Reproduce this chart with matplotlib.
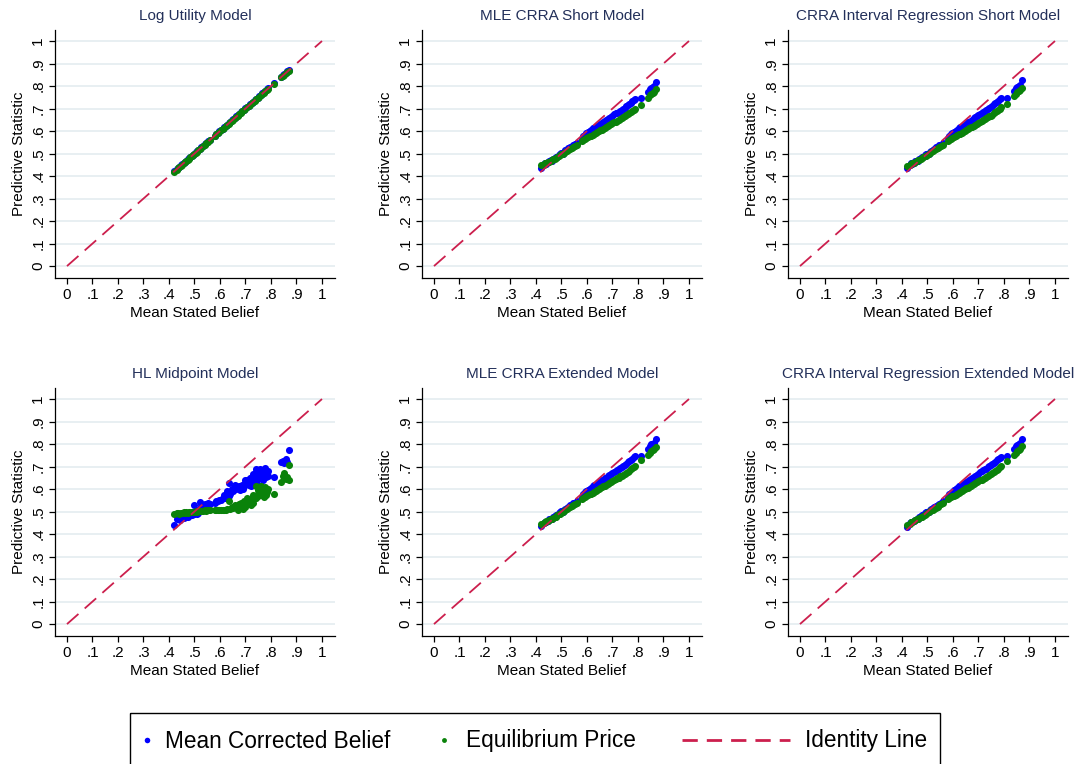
import matplotlib
matplotlib.use("Agg")
import matplotlib.pyplot as plt
from matplotlib.patches import Rectangle

plt.rcParams['font.family'] = ['Liberation Sans', 'DejaVu Sans']
plt.rcParams['lines.scale_dashes'] = False

# mean stated belief per market (shared by the smooth panels)
belief = [0.420, 0.430, 0.436, 0.441, 0.447, 0.452, 0.458, 0.463, 0.468, 0.473, 0.478, 0.484, 0.489,
          0.494, 0.499, 0.504, 0.510, 0.515, 0.521, 0.527, 0.533, 0.540, 0.547, 0.553, 0.560,
          0.580, 0.586, 0.592, 0.598, 0.604, 0.610, 0.616, 0.622, 0.628, 0.634, 0.640, 0.646,
          0.652, 0.658, 0.664, 0.670, 0.676, 0.682, 0.688, 0.694, 0.700, 0.706, 0.712, 0.718,
          0.724, 0.730, 0.736, 0.742, 0.748, 0.754, 0.760, 0.766, 0.772, 0.778, 0.784, 0.790,
          0.810, 0.840, 0.846, 0.852, 0.858, 0.864, 0.870]

# Log utility model
log_corrected = [0.421, 0.431, 0.437, 0.442, 0.448, 0.453, 0.459, 0.464, 0.469, 0.474, 0.479, 0.485, 0.490,
                 0.495, 0.500, 0.505, 0.511, 0.516, 0.522, 0.528, 0.534, 0.541, 0.548, 0.554, 0.562,
                 0.579, 0.587, 0.593, 0.599, 0.605, 0.611, 0.617, 0.623, 0.629, 0.635, 0.641, 0.647,
                 0.653, 0.659, 0.665, 0.671, 0.677, 0.683, 0.689, 0.695, 0.701, 0.707, 0.713, 0.719,
                 0.725, 0.731, 0.737, 0.743, 0.749, 0.755, 0.761, 0.767, 0.773, 0.779, 0.785, 0.791,
                 0.812, 0.842, 0.848, 0.854, 0.860, 0.866, 0.872]
log_price = [0.418, 0.429, 0.435, 0.440, 0.446, 0.451, 0.457, 0.462, 0.467, 0.472, 0.477, 0.483, 0.488,
             0.493, 0.498, 0.503, 0.509, 0.514, 0.520, 0.526, 0.532, 0.539, 0.546, 0.552, 0.558,
             0.579, 0.585, 0.591, 0.597, 0.603, 0.609, 0.615, 0.621, 0.627, 0.633, 0.639, 0.645,
             0.651, 0.657, 0.663, 0.669, 0.675, 0.681, 0.687, 0.693, 0.699, 0.705, 0.711, 0.717,
             0.723, 0.729, 0.735, 0.741, 0.747, 0.753, 0.759, 0.765, 0.771, 0.777, 0.783, 0.789,
             0.808, 0.838, 0.844, 0.850, 0.856, 0.862, 0.869]

# MLE CRRA short model
mle_short_corrected = [0.438, 0.452, 0.458, 0.455, 0.462, 0.466, 0.470, 0.468, 0.476, 0.481, 0.486, 0.485, 0.494,
                       0.497, 0.502, 0.500, 0.508, 0.514, 0.516, 0.523, 0.528, 0.531, 0.537, 0.541, 0.548,
                       0.566, 0.578, 0.584, 0.590, 0.594, 0.600, 0.604, 0.612, 0.615, 0.618, 0.622, 0.628,
                       0.631, 0.636, 0.640, 0.645, 0.648, 0.654, 0.659, 0.663, 0.668, 0.674, 0.678, 0.682,
                       0.685, 0.690, 0.695, 0.700, 0.704, 0.710, 0.716, 0.720, 0.726, 0.732, 0.738, 0.742,
                       0.745, 0.772, 0.785, 0.790, 0.795, 0.800, 0.818]
mle_short_price = [0.447, 0.450, 0.456, 0.458, 0.461, 0.464, 0.468, 0.471, 0.474, 0.478, 0.480, 0.485, 0.489,
                   0.492, 0.496, 0.499, 0.504, 0.508, 0.512, 0.516, 0.520, 0.525, 0.531, 0.535, 0.540,
                   0.555, 0.560, 0.565, 0.568, 0.572, 0.576, 0.580, 0.584, 0.587, 0.592, 0.595, 0.600,
                   0.603, 0.606, 0.611, 0.614, 0.618, 0.622, 0.626, 0.630, 0.634, 0.638, 0.641, 0.646,
                   0.650, 0.654, 0.658, 0.662, 0.666, 0.670, 0.675, 0.680, 0.684, 0.690, 0.694, 0.700,
                   0.716, 0.748, 0.758, 0.765, 0.770, 0.775, 0.786]

# CRRA interval regression short model
int_short_corrected = [0.436, 0.450, 0.456, 0.454, 0.460, 0.465, 0.469, 0.467, 0.475, 0.480, 0.484, 0.484, 0.492,
                       0.496, 0.500, 0.499, 0.507, 0.512, 0.515, 0.522, 0.527, 0.530, 0.536, 0.540, 0.547,
                       0.567, 0.579, 0.585, 0.591, 0.596, 0.601, 0.606, 0.613, 0.617, 0.620, 0.624, 0.629,
                       0.633, 0.638, 0.642, 0.646, 0.650, 0.656, 0.661, 0.665, 0.670, 0.676, 0.680, 0.684,
                       0.688, 0.692, 0.697, 0.702, 0.707, 0.712, 0.718, 0.723, 0.729, 0.735, 0.741, 0.746,
                       0.748, 0.778, 0.792, 0.797, 0.801, 0.806, 0.825]
int_short_price = [0.444, 0.448, 0.454, 0.457, 0.460, 0.463, 0.467, 0.470, 0.473, 0.477, 0.479, 0.484, 0.488,
                   0.491, 0.495, 0.498, 0.503, 0.507, 0.511, 0.515, 0.519, 0.524, 0.530, 0.534, 0.539,
                   0.556, 0.561, 0.566, 0.569, 0.573, 0.577, 0.581, 0.585, 0.589, 0.593, 0.597, 0.602,
                   0.605, 0.608, 0.613, 0.616, 0.620, 0.624, 0.628, 0.632, 0.636, 0.640, 0.644, 0.648,
                   0.652, 0.657, 0.661, 0.665, 0.669, 0.673, 0.678, 0.683, 0.688, 0.693, 0.698, 0.705,
                   0.722, 0.755, 0.765, 0.772, 0.778, 0.782, 0.792]

# MLE CRRA extended model
mle_ext_corrected = [0.434, 0.449, 0.455, 0.453, 0.460, 0.465, 0.469, 0.466, 0.475, 0.480, 0.485, 0.484, 0.493,
                     0.497, 0.501, 0.500, 0.508, 0.513, 0.516, 0.522, 0.527, 0.531, 0.536, 0.540, 0.547,
                     0.566, 0.578, 0.585, 0.590, 0.595, 0.601, 0.606, 0.613, 0.616, 0.620, 0.624, 0.630,
                     0.633, 0.638, 0.642, 0.647, 0.650, 0.656, 0.661, 0.665, 0.670, 0.676, 0.680, 0.684,
                     0.688, 0.692, 0.697, 0.702, 0.707, 0.712, 0.718, 0.723, 0.729, 0.735, 0.741, 0.745,
                     0.747, 0.778, 0.792, 0.798, 0.801, 0.806, 0.822]
mle_ext_price = [0.443, 0.447, 0.453, 0.456, 0.459, 0.462, 0.466, 0.469, 0.472, 0.476, 0.478, 0.483, 0.487,
                 0.490, 0.494, 0.497, 0.502, 0.506, 0.510, 0.514, 0.518, 0.523, 0.529, 0.533, 0.538,
                 0.555, 0.560, 0.565, 0.568, 0.572, 0.576, 0.580, 0.584, 0.588, 0.592, 0.596, 0.601,
                 0.604, 0.607, 0.612, 0.615, 0.619, 0.623, 0.627, 0.631, 0.635, 0.639, 0.643, 0.647,
                 0.651, 0.656, 0.660, 0.664, 0.668, 0.672, 0.677, 0.682, 0.687, 0.692, 0.697, 0.704,
                 0.728, 0.750, 0.762, 0.768, 0.774, 0.779, 0.788]

# CRRA interval regression extended model
int_ext_corrected = [0.433, 0.448, 0.454, 0.452, 0.459, 0.464, 0.468, 0.466, 0.474, 0.479, 0.484, 0.483, 0.492,
                     0.496, 0.500, 0.499, 0.507, 0.512, 0.515, 0.521, 0.526, 0.530, 0.535, 0.539, 0.546,
                     0.565, 0.577, 0.584, 0.589, 0.594, 0.600, 0.605, 0.612, 0.615, 0.619, 0.623, 0.629,
                     0.632, 0.637, 0.641, 0.646, 0.649, 0.655, 0.660, 0.664, 0.669, 0.675, 0.679, 0.683,
                     0.687, 0.691, 0.696, 0.701, 0.706, 0.711, 0.717, 0.722, 0.728, 0.734, 0.740, 0.744,
                     0.746, 0.776, 0.790, 0.796, 0.800, 0.805, 0.823]
int_ext_price = [0.441, 0.446, 0.452, 0.455, 0.458, 0.461, 0.465, 0.468, 0.471, 0.475, 0.477, 0.482, 0.486,
                 0.489, 0.493, 0.496, 0.501, 0.505, 0.509, 0.513, 0.517, 0.522, 0.528, 0.532, 0.537,
                 0.554, 0.559, 0.564, 0.567, 0.571, 0.575, 0.579, 0.583, 0.587, 0.591, 0.595, 0.600,
                 0.603, 0.606, 0.611, 0.614, 0.618, 0.622, 0.626, 0.630, 0.634, 0.638, 0.642, 0.646,
                 0.650, 0.655, 0.659, 0.663, 0.667, 0.671, 0.676, 0.681, 0.686, 0.691, 0.696, 0.702,
                 0.725, 0.752, 0.760, 0.767, 0.772, 0.778, 0.790]

# HL midpoint model (more spread, own x lists)
hl_blue_x = [0.420, 0.430, 0.436, 0.441, 0.447, 0.452, 0.458, 0.463, 0.468, 0.473, 0.478, 0.484, 0.489,
             0.494, 0.499, 0.504, 0.510, 0.515, 0.521, 0.527, 0.533, 0.540, 0.547, 0.553, 0.560,
             0.580, 0.586, 0.592, 0.598, 0.604, 0.610, 0.616, 0.622, 0.628, 0.634, 0.640, 0.646,
             0.652, 0.658, 0.664, 0.670, 0.676, 0.682, 0.688, 0.694, 0.700, 0.706, 0.712, 0.718,
             0.724, 0.730, 0.736, 0.742, 0.748, 0.754, 0.760, 0.766, 0.772, 0.778, 0.784, 0.790,
             0.810, 0.840, 0.846, 0.852, 0.858, 0.864, 0.870,
             0.745, 0.760, 0.725, 0.750, 0.770, 0.735, 0.710, 0.720, 0.680, 0.660, 0.620, 0.635,
             0.650, 0.690, 0.790, 0.780, 0.445, 0.460, 0.475, 0.490, 0.500, 0.510,
             0.740, 0.755, 0.765, 0.775, 0.730, 0.700]
hl_blue_y = [0.440, 0.465, 0.470, 0.478, 0.472, 0.485, 0.480, 0.490, 0.475, 0.488, 0.495, 0.492, 0.500,
             0.488, 0.530, 0.498, 0.505, 0.495, 0.542, 0.525, 0.530, 0.535, 0.528, 0.540, 0.532,
             0.540, 0.545, 0.548, 0.553, 0.550, 0.560, 0.575, 0.570, 0.590, 0.625, 0.580, 0.600,
             0.598, 0.610, 0.600, 0.605, 0.615, 0.608, 0.620, 0.612, 0.625, 0.640, 0.620, 0.650,
             0.635, 0.660, 0.645, 0.690, 0.655, 0.670, 0.648, 0.685, 0.662, 0.695, 0.672, 0.680,
             0.652, 0.718, 0.725, 0.715, 0.735, 0.722, 0.775,
             0.640, 0.670, 0.655, 0.620, 0.640, 0.630, 0.630, 0.615, 0.595, 0.620, 0.560, 0.570,
             0.590, 0.600, 0.660, 0.655, 0.462, 0.470, 0.478, 0.485, 0.490, 0.490,
             0.675, 0.690, 0.678, 0.685, 0.668, 0.640]
hl_green_x = [0.420, 0.430, 0.436, 0.441, 0.447, 0.452, 0.458, 0.463, 0.468, 0.473, 0.478, 0.484, 0.489,
              0.494, 0.499, 0.504, 0.510, 0.515, 0.521, 0.527, 0.533, 0.540, 0.547, 0.553, 0.560,
              0.580, 0.586, 0.592, 0.598, 0.604, 0.610, 0.616, 0.622, 0.628, 0.634, 0.640, 0.646,
              0.652, 0.658, 0.664, 0.670, 0.676, 0.682, 0.688, 0.694, 0.700, 0.706, 0.712, 0.718,
              0.724, 0.730, 0.736, 0.742, 0.748, 0.754, 0.760, 0.766, 0.772, 0.778, 0.784, 0.790,
              0.810, 0.840, 0.846, 0.852, 0.858, 0.864, 0.870, 0.870,
              0.720, 0.740, 0.760, 0.750, 0.730, 0.700, 0.680, 0.770, 0.780, 0.710, 0.690, 0.750]
hl_green_y = [0.488, 0.492, 0.494, 0.490, 0.495, 0.493, 0.496, 0.494, 0.497, 0.495, 0.498, 0.496, 0.500,
              0.498, 0.500, 0.501, 0.500, 0.503, 0.502, 0.504, 0.503, 0.505, 0.504, 0.506, 0.505,
              0.506, 0.505, 0.507, 0.506, 0.508, 0.507, 0.509, 0.508, 0.510, 0.545, 0.512, 0.520,
              0.515, 0.530, 0.522, 0.505, 0.535, 0.540, 0.528, 0.545, 0.535, 0.560, 0.540, 0.555,
              0.548, 0.575, 0.560, 0.612, 0.570, 0.590, 0.575, 0.600, 0.565, 0.610, 0.585, 0.600,
              0.578, 0.630, 0.660, 0.672, 0.645, 0.655, 0.708, 0.638,
              0.530, 0.560, 0.615, 0.580, 0.540, 0.520, 0.525, 0.590, 0.575, 0.550, 0.510, 0.595]

panels = [
    ("Log Utility Model", belief, log_corrected, belief, log_price),
    ("MLE CRRA Short Model", belief, mle_short_corrected, belief, mle_short_price),
    ("CRRA Interval Regression Short Model", belief, int_short_corrected, belief, int_short_price),
    ("HL Midpoint Model", hl_blue_x, hl_blue_y, hl_green_x, hl_green_y),
    ("MLE CRRA Extended Model", belief, mle_ext_corrected, belief, mle_ext_price),
    ("CRRA Interval Regression Extended Model", belief, int_ext_corrected, belief, int_ext_price),
]

ticks = [0, 0.1, 0.2, 0.3, 0.4, 0.5, 0.6, 0.7, 0.8, 0.9, 1]
tick_labels = ["0", ".1", ".2", ".3", ".4", ".5", ".6", ".7", ".8", ".9", "1"]

BLUE = "#0000ff"
GREEN = "#0a820a"
RED = "#cc1f4d"
TITLE_COL = "#23305a"

W, H = 1077, 764
fig = plt.figure(figsize=(W / 100, H / 100), dpi=100)
fig.patch.set_facecolor("white")

lefts = [55, 422, 788]
bottoms = [278, 636]
tops = [30, 388]

for i, (title, bx, by, gx, gy) in enumerate(panels):
    row, col = divmod(i, 3)
    l = lefts[col]
    ax = fig.add_axes([l / W, 1 - bottoms[row] / H, 280 / W, (bottoms[row] - tops[row]) / H])
    ax.set_xlim(-0.047, 1.051)
    ax.set_ylim(-0.053, 1.049)
    for yv in ticks:
        ax.axhline(yv, color="#e6eef1", lw=1.3, zorder=0)
    ax.scatter(bx, by, s=26, color=BLUE, linewidths=0, zorder=2)
    ax.scatter(gx, gy, s=26, color=GREEN, linewidths=0, zorder=3)
    ax.plot([0, 1], [0, 1], color=RED, lw=1.3, dashes=(11, 6), zorder=4)
    ax.spines["top"].set_visible(False)
    ax.spines["right"].set_visible(False)
    ax.spines["left"].set_linewidth(0.9)
    ax.spines["bottom"].set_linewidth(0.9)
    ax.set_xticks(ticks)
    ax.set_xticklabels(tick_labels)
    ax.set_yticks(ticks)
    ax.set_yticklabels(tick_labels, rotation=90, va="center")
    ax.tick_params(length=4, width=0.9, labelsize=11, pad=3)
    ax.set_xlabel("Mean Stated Belief", fontsize=11, labelpad=3)
    ax.set_ylabel("Predictive Statistic", fontsize=11, labelpad=4)
    ax.set_title(title, fontsize=11, color=TITLE_COL, pad=7)

# legend box drawn by hand in pixel coordinates (Stata style)
lg = fig.add_axes([0, 0, 1, 1])
lg.set_xlim(0, W)
lg.set_ylim(H, 0)
lg.axis("off")
lg.add_patch(Rectangle((130, 713), 810, 60, fill=False, edgecolor="black", lw=1.0))
lg.plot([147], [740], marker="o", color=BLUE, markersize=4, markeredgewidth=0)
lg.text(165, 741, "Mean Corrected Belief", fontsize=16.3, va="center", ha="left")
lg.plot([444], [740], marker="o", color=GREEN, markersize=3.5, markeredgewidth=0)
lg.text(466, 741, "Equilibrium Price", fontsize=16.3, va="center", ha="left")
lg.plot([682, 790], [740, 740], color=RED, lw=2.0, dashes=(11, 6.5))
lg.text(805, 741, "Identity Line", fontsize=16.3, va="center", ha="left")

fig.savefig("out.png", dpi=100)
